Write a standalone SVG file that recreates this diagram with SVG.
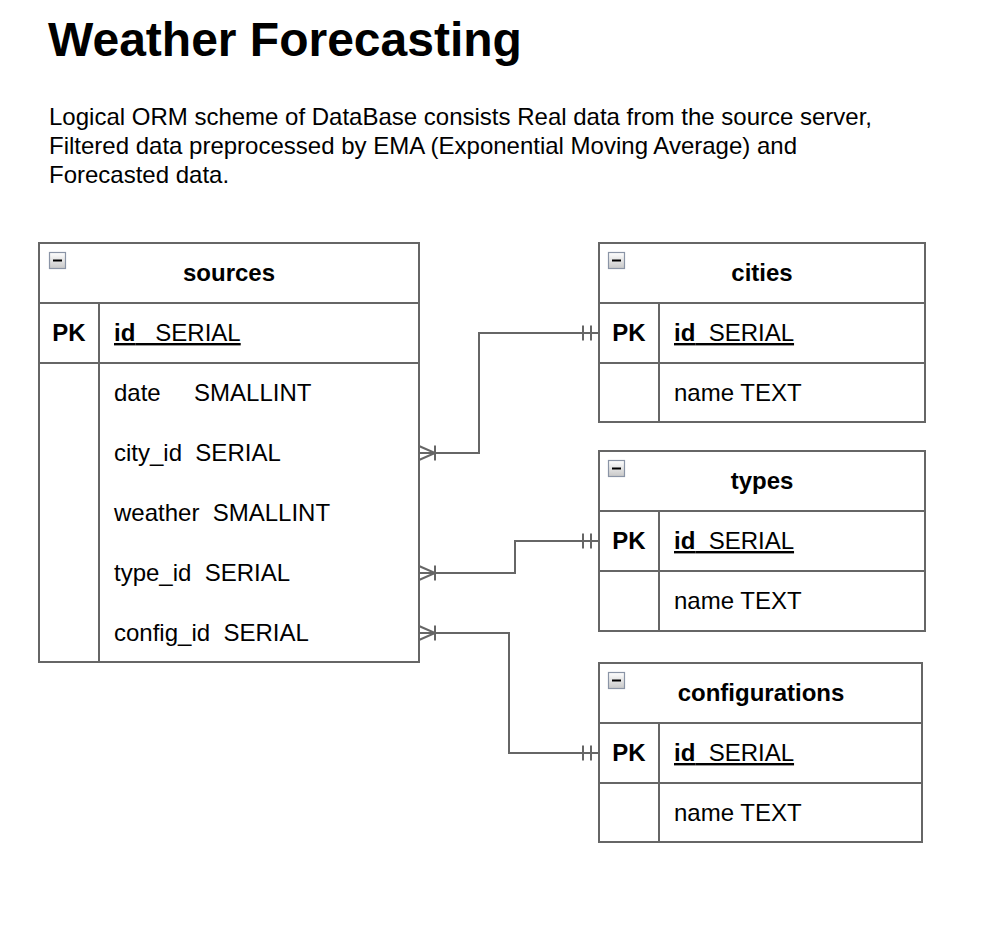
<svg xmlns="http://www.w3.org/2000/svg" width="988" height="932" viewBox="0 0 988 932">
<defs>
<linearGradient id="ig" x1="0" y1="0" x2="0" y2="1">
<stop offset="0" stop-color="#ffffff"/>
<stop offset="1" stop-color="#c8c8c8"/>
</linearGradient>
<g id="icon">
<rect x="0.5" y="0.5" width="16" height="16" fill="url(#ig)" stroke="#8a94a6" stroke-width="1.2"/>
<rect x="4" y="7.5" width="9" height="2" fill="#000"/>
</g>
</defs>
<style>
text{font-family:"Liberation Sans",Arial,Helvetica,sans-serif;fill:#000;white-space:pre}
.t{font-size:48px;font-weight:bold}
.d{font-size:24px}
.h{font-size:24px;font-weight:bold;text-anchor:middle}
.pk{font-size:24px;font-weight:bold;text-anchor:middle}
.f{font-size:24px}
.u{text-decoration:underline}
.b{font-weight:bold}
.box{fill:#fff;stroke:#666;stroke-width:2}
.ln{stroke:#666;stroke-width:2;fill:none}
.c{stroke:#666;stroke-width:2;fill:none}
</style>
<rect width="988" height="932" fill="#fff"/>
<text class="t" x="48" y="56">Weather Forecasting</text>
<text class="d" x="49" y="125">Logical ORM scheme of DataBase consists Real data from the source server,</text>
<text class="d" x="49" y="154">Filtered data preprocessed by EMA (Exponential Moving Average) and</text>
<text class="d" x="49" y="183">Forecasted data.</text>

<g id="connectors">
<path class="c" d="M419,453 H479 V333 H599"/>
<path class="c" d="M419,446 L435,453 L419,460 M435,445.5 V460.5 M583,325.5 V340.5 M591,325.5 V340.5"/>
<path class="c" d="M419,573 H515 V541 H599"/>
<path class="c" d="M419,566 L435,573 L419,580 M435,565.5 V580.5 M583,533.5 V548.5 M591,533.5 V548.5"/>
<path class="c" d="M419,633 H509 V753 H599"/>
<path class="c" d="M419,626 L435,633 L419,640 M435,625.5 V640.5 M583,745.5 V760.5 M591,745.5 V760.5"/>
</g>

<g id="sources">
<rect class="box" x="39" y="243" width="380" height="419"/>
<path class="ln" d="M39,303 H419 M39,363 H419 M99,303 V662"/>
<use href="#icon" x="49" y="252"/>
<text class="h" x="229" y="281">sources</text>
<text class="pk" x="69" y="341">PK</text>
<text class="f u" x="114" y="341"><tspan class="b">id</tspan>   SERIAL</text>
<text class="f" x="114" y="401">date     SMALLINT</text>
<text class="f" x="114" y="461">city_id  SERIAL</text>
<text class="f" x="114" y="521">weather  SMALLINT</text>
<text class="f" x="114" y="581">type_id  SERIAL</text>
<text class="f" x="114" y="641">config_id  SERIAL</text>
</g>

<g id="cities">
<rect class="box" x="599" y="243" width="326" height="179"/>
<path class="ln" d="M599,303 H925 M599,363 H925 M659,303 V422"/>
<use href="#icon" x="608" y="252"/>
<text class="h" x="762" y="281">cities</text>
<text class="pk" x="629" y="341">PK</text>
<text class="f u" x="674" y="341"><tspan class="b">id</tspan>  SERIAL</text>
<text class="f" x="674" y="401">name TEXT</text>
</g>

<g id="types">
<rect class="box" x="599" y="451" width="326" height="180"/>
<path class="ln" d="M599,511 H925 M599,571 H925 M659,511 V631"/>
<use href="#icon" x="608" y="460"/>
<text class="h" x="762" y="489">types</text>
<text class="pk" x="629" y="549">PK</text>
<text class="f u" x="674" y="549"><tspan class="b">id</tspan>  SERIAL</text>
<text class="f" x="674" y="609">name TEXT</text>
</g>

<g id="configurations">
<rect class="box" x="599" y="663" width="323" height="179"/>
<path class="ln" d="M599,723 H922 M599,783 H922 M659,723 V842"/>
<use href="#icon" x="608" y="672"/>
<text class="h" x="761" y="701">configurations</text>
<text class="pk" x="629" y="761">PK</text>
<text class="f u" x="674" y="761"><tspan class="b">id</tspan>  SERIAL</text>
<text class="f" x="674" y="821">name TEXT</text>
</g>
</svg>
